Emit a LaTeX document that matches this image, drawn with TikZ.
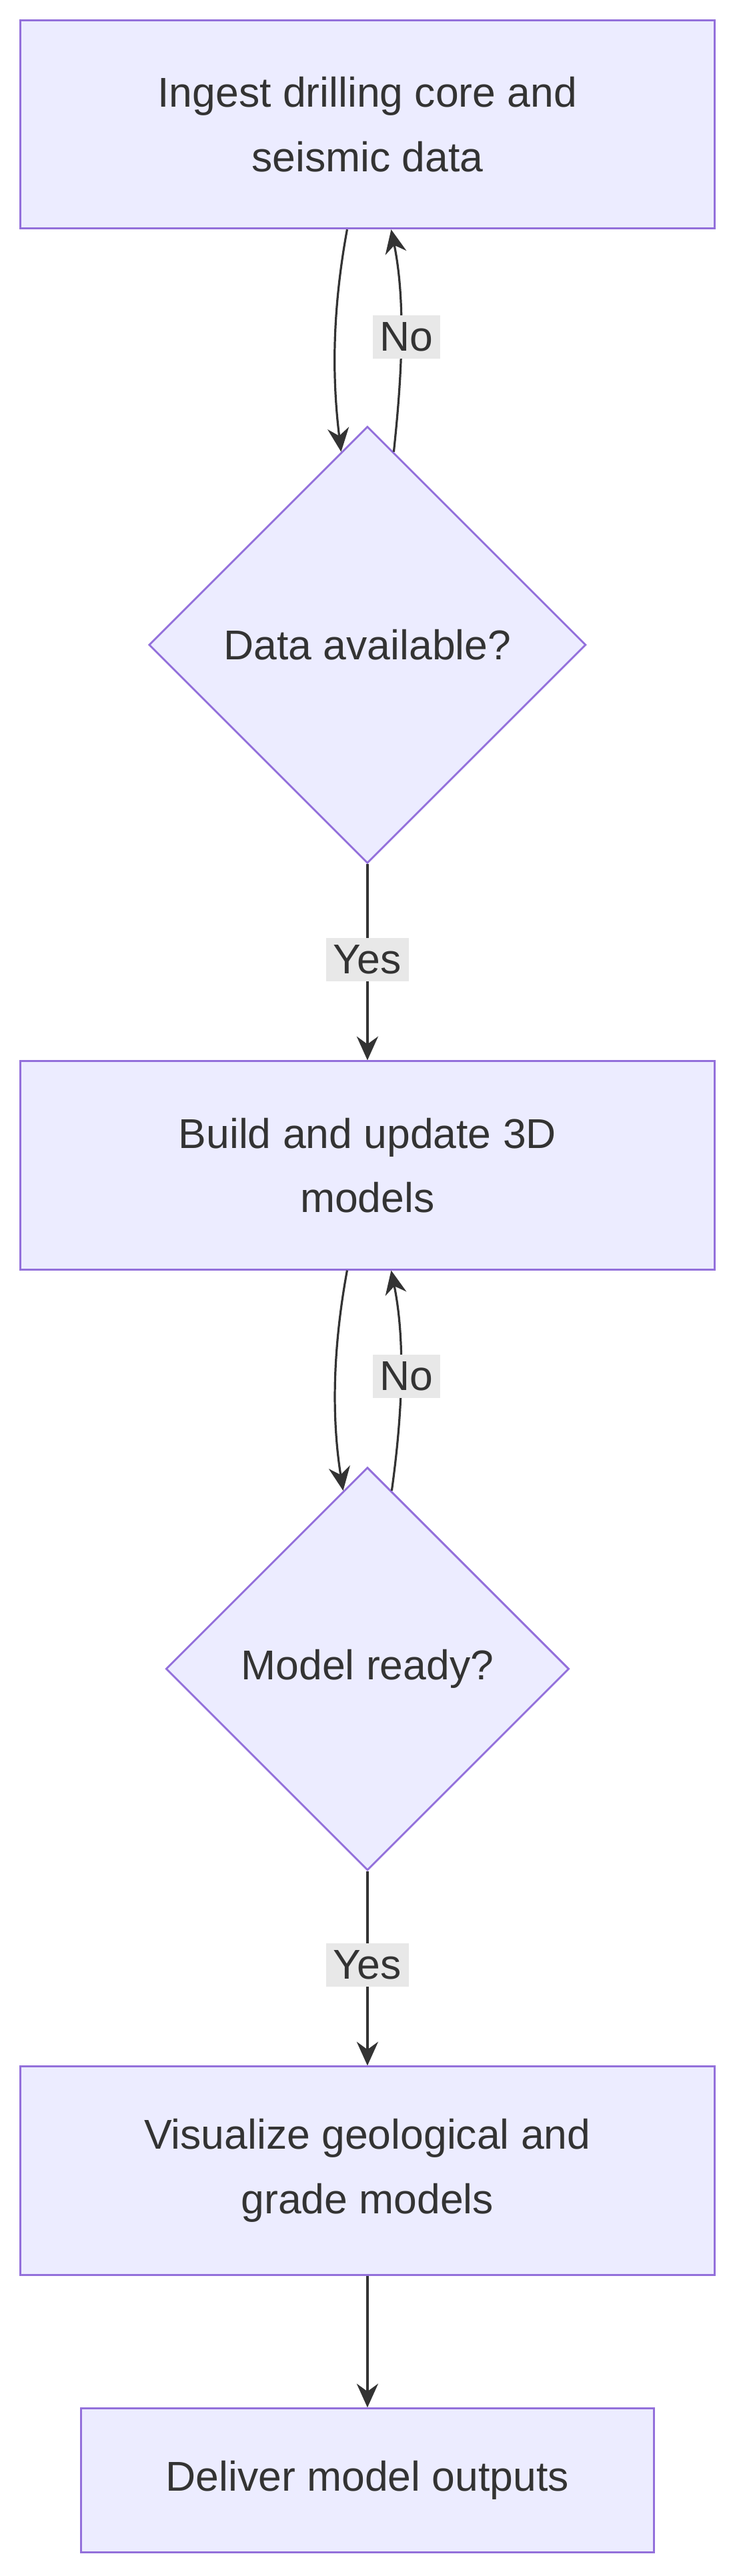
\documentclass[tikz,border=0pt]{standalone}
\usepackage{fontspec}
\setmainfont{Liberation Sans}
\usetikzlibrary{positioning,shapes.geometric,arrows.meta,calc}
\definecolor{boxfill}{HTML}{ECECFF}
\definecolor{boxline}{HTML}{9370DB}
\definecolor{ink}{HTML}{333333}
\definecolor{lblbg}{HTML}{E8E8E8}
\tikzset{
  stage/.style={draw=boxline, fill=boxfill, line width=0.8pt, text=ink,
    minimum width=10.25cm, minimum height=3.075cm, align=center,
    font=\fontsize{17.5}{27}\selectfont},
  check/.style={diamond, draw=boxline, fill=boxfill, line width=0.8pt, text=ink,
    inner sep=0pt, align=center, font=\fontsize{17.5}{27}\selectfont},
  flow/.style={draw=ink, line width=0.9pt, -{Stealth[length=10pt,width=9pt]}},
  tag/.style={fill=lblbg, text=ink, inner sep=3pt, font=\fontsize{17.5}{20}\selectfont}
}
\begin{document}
\begin{tikzpicture}[x=0.025cm,y=-0.025cm]
\useasboundingbox (0,0) rectangle (435,1522);

% stages and checks
\node[stage] (ingest) at (217,73.5) {Ingest drilling core and\\seismic data};
\node[check, minimum width=6.45cm, minimum height=6.45cm] (avail) at (217,381) {Data available?};
\node[stage] (build) at (217,688.5) {Build and update 3D\\models};
\node[check, minimum width=5.95cm, minimum height=5.95cm] (ready) at (217,986) {Model ready?};
\node[stage] (visual) at (217,1282.5) {Visualize geological and\\grade models};
\node[stage, minimum width=8.45cm, minimum height=2.125cm] (deliver) at (217,1465.5) {Deliver model outputs};

% loops back
\draw[flow] ([xshift=-0.3cm]ingest.south) .. controls (195,190) and (197,230) .. ($(avail.north)!0.12!(avail.west)$);
\draw[flow] ($(avail.north)!0.12!(avail.east)$) .. controls (237,225) and (240,180) .. ([xshift=0.35cm]ingest.south);
\node[tag] (no1) at (240,199) {No};
\draw[flow] ([xshift=-0.3cm]build.south) .. controls (195,805) and (197,845) .. ($(ready.north)!0.12!(ready.west)$);
\draw[flow] ($(ready.north)!0.12!(ready.east)$) .. controls (237,840) and (240,795) .. ([xshift=0.35cm]build.south);
\node[tag] (no2) at (240,813) {No};

% forward
\draw[flow] (avail.south) -- (build.north);
\node[tag] (yes1) at (217,567) {Yes};
\draw[flow] (ready.south) -- (visual.north);
\node[tag] (yes2) at (217,1161) {Yes};
\draw[flow] (visual.south) -- (deliver.north);
\end{tikzpicture}
\end{document}
